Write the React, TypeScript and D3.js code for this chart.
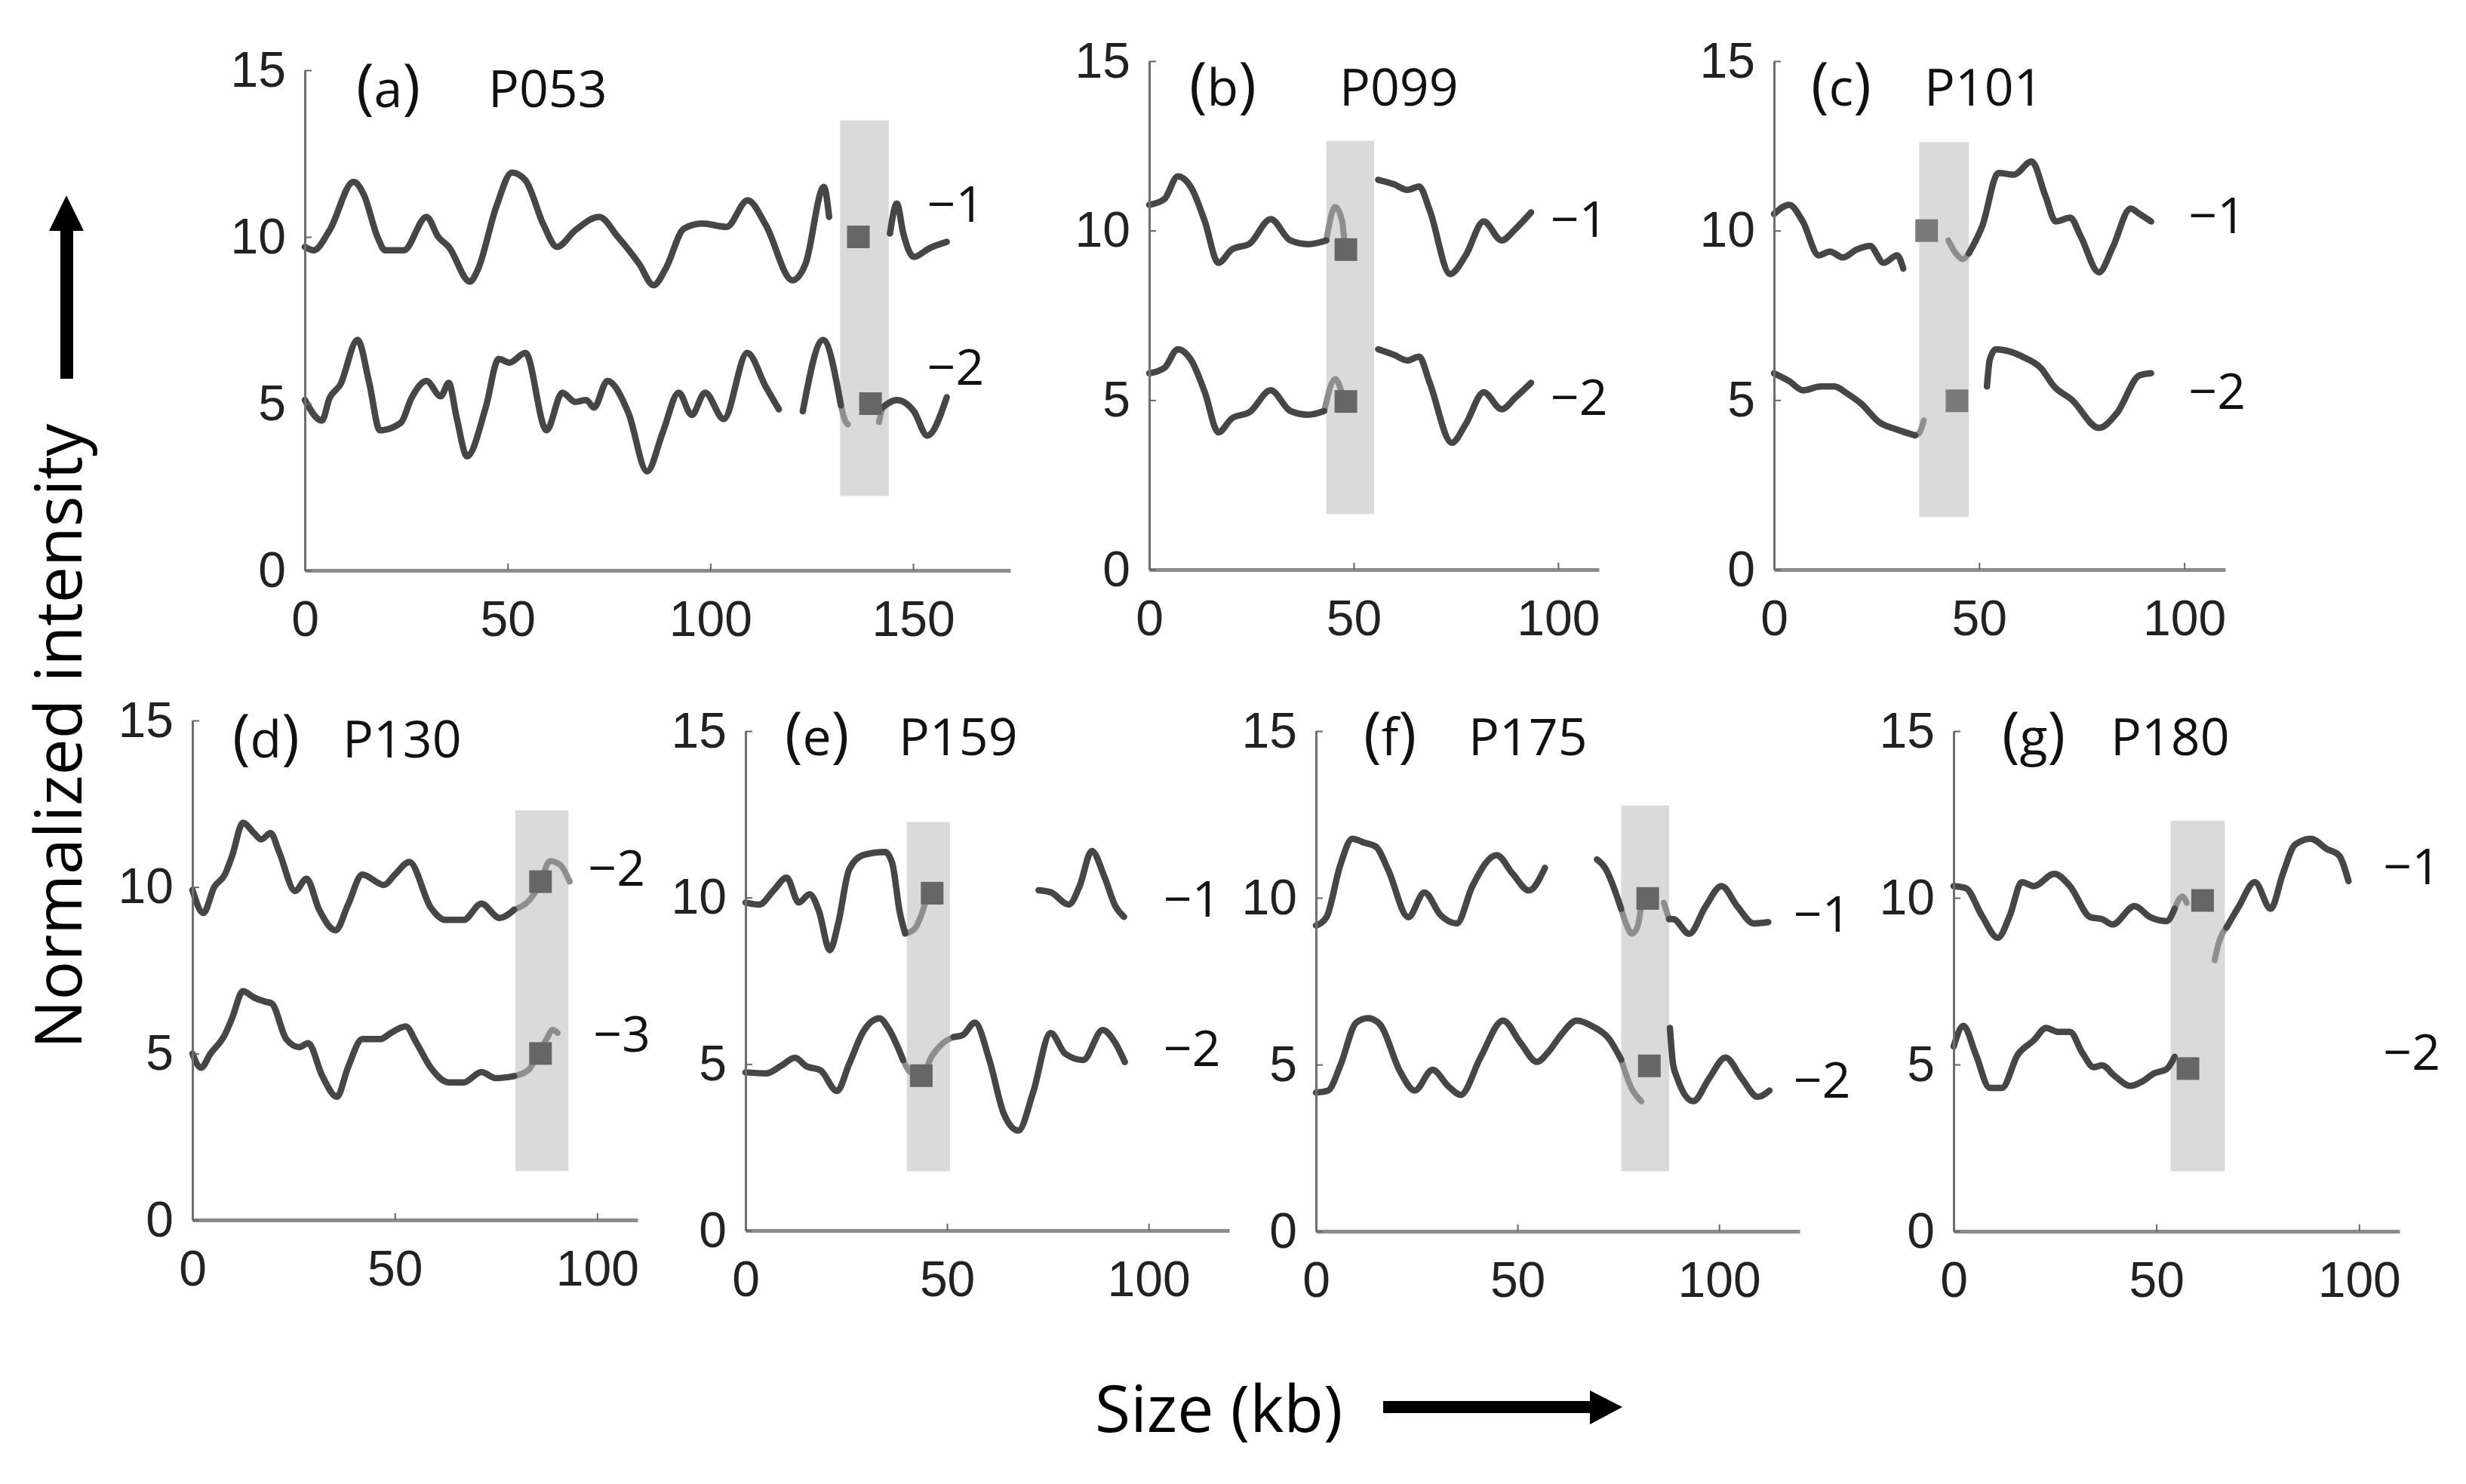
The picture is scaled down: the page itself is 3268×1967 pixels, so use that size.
import React, { useEffect, useRef } from 'react'
import * as d3 from 'd3'

type Pt = [number, number]

// ---- data: [size kb, normalized intensity] ----

// (a) P053
const p053_1_left: Pt[] = [[0, 9.7], [2.2, 9.6], [6.1, 10.2], [12, 11.65], [14.6, 11.25], [17.9, 10.0], [19.8, 9.6], [24.4, 9.6], [30, 10.6], [32.9, 10.0], [35.5, 9.7], [40.7, 8.66], [42.6, 9.0], [47.2, 10.9], [51.1, 11.93], [54.4, 11.7], [58.9, 10.35], [62.2, 9.7], [66.7, 10.2], [72.6, 10.6], [77.2, 10.0], [82.4, 9.2], [86, 8.55], [89, 9.05], [93.5, 10.25], [98, 10.4], [104, 10.3], [109.2, 11.1], [113.7, 10.35], [120.2, 8.7], [123.5, 9.2], [128, 11.5], [129.3, 10.6]]
const p053_1_right: Pt[] = [[144.3, 10.1], [146, 11.0], [147.6, 10.1], [150.2, 9.4], [154, 9.66], [158.3, 9.85]]
const p053_2_left: Pt[] = [[0, 5.11], [4.2, 4.49], [6.1, 5.17], [8.7, 5.56], [13, 6.91], [15.9, 5.61], [18.5, 4.2], [23.7, 4.43], [26.3, 5.17], [30, 5.68], [33.5, 5.22], [35.5, 5.62], [37.4, 4.6], [40, 3.42], [44.6, 4.88], [47.8, 6.34], [50.5, 6.23], [54.4, 6.52], [59.6, 4.2], [63.5, 5.33], [66.7, 5.05], [69.4, 5.11], [71.3, 4.88], [74.6, 5.68], [79.8, 4.72], [84.4, 2.97], [88.3, 4.15], [92.2, 5.33], [95.4, 4.66], [98.7, 5.33], [103.3, 4.54], [109.1, 6.52], [113.7, 5.5], [116.9, 4.83]]
const p053_2_mid: Pt[] = [[122.8, 4.77], [127.8, 6.91], [132.2, 4.95]]
const p053_2_dip: Pt[] = [[132.2, 4.95], [133.2, 4.5], [133.9, 4.38]]
const p053_2_tail: Pt[] = [[141.6, 4.45], [142.4, 4.88]]
const p053_2_right: Pt[] = [[142.4, 4.88], [146, 5.11], [150.2, 4.77], [153.5, 4.04], [158.3, 5.19]]

// (b) P099
const p099_1_left: Pt[] = [[0, 10.76], [3.7, 10.93], [7, 11.6], [10.3, 11.26], [13.6, 10.27], [16.9, 9.05], [20.2, 9.44], [24.6, 9.62], [29.7, 10.34], [34.5, 9.71], [38.9, 9.6], [43.3, 9.71]]
const p099_1_gap: Pt[] = [[43.3, 9.71], [45.5, 10.7], [47.2, 10.27], [47.7, 9.7]]
const p099_1_right: Pt[] = [[56, 11.5], [59.8, 11.37], [63.1, 11.2], [66, 11.3], [68.6, 10.6], [73.6, 8.72], [77.4, 9.27], [81.8, 10.27], [86.2, 9.71], [89.5, 10.04], [93.4, 10.54]]
const p099_2_left: Pt[] = [[0, 5.79], [3.7, 5.95], [7, 6.5], [10.3, 6.17], [13.6, 5.23], [16.9, 4.05], [20.2, 4.46], [24.6, 4.65], [29.7, 5.29], [34.5, 4.68], [38.9, 4.57], [42.8, 4.68]]
const p099_2_gap: Pt[] = [[42.8, 4.68], [45.5, 5.62], [47.2, 5.18]]
const p099_2_right: Pt[] = [[56, 6.5], [59.8, 6.34], [63.1, 6.17], [66, 6.28], [68.6, 5.51], [74, 3.74], [77.4, 4.29], [81.8, 5.23], [86.2, 4.73], [89.5, 5.07], [93.4, 5.51]]

// (c) P101
const p101_1_left: Pt[] = [[0, 10.49], [3.7, 10.76], [7, 10.27], [10.9, 9.27], [13.6, 9.38], [16.8, 9.21], [20.1, 9.44], [23.4, 9.55], [26.7, 9.05], [30, 9.27], [31.5, 8.88]]
const p101_1_gap: Pt[] = [[42.5, 9.71], [44.5, 9.3], [46, 9.16], [47.5, 9.33]]
const p101_1_right: Pt[] = [[47.5, 9.33], [50.8, 10.15], [54.7, 11.7], [58.4, 11.65], [62.8, 12.04], [66.1, 11.04], [68.7, 10.27], [72.2, 10.38], [74.8, 9.82], [79.2, 8.77], [82.5, 9.49], [86.9, 10.65], [89.1, 10.49], [91.9, 10.27]]
const p101_2_left: Pt[] = [[0, 5.79], [3.7, 5.56], [7, 5.29], [11.4, 5.4], [14.7, 5.4], [18, 5.18], [21.2, 4.9], [25.6, 4.35], [30, 4.13], [34.4, 3.96]]
const p101_2_gap: Pt[] = [[34.4, 3.96], [35.5, 4.05], [36.5, 4.4]]
const p101_2_right: Pt[] = [[51.9, 5.4], [52.6, 6.2], [54.1, 6.5], [57.3, 6.44], [60.6, 6.28], [65, 5.95], [68.3, 5.4], [72.6, 5.01], [79.2, 4.18], [83.6, 4.62], [89.1, 5.73], [91.9, 5.79]]

// (d) P130
const p130_2_left: Pt[] = [[0, 9.91], [2.7, 9.22], [5.4, 10.0], [8, 10.37], [9.8, 10.93], [12.5, 11.93], [15.2, 11.62], [17, 11.43], [19.3, 11.62], [21.4, 11.06], [25.4, 9.88], [28.2, 10.25], [31.3, 9.32], [35.4, 8.7], [38.4, 9.45], [42, 10.37], [47.3, 10.06], [50, 10.37], [53.6, 10.75], [58.9, 9.38], [62.5, 9.01], [67, 9.01], [71.4, 9.5], [75.9, 9.07], [79.5, 9.32]]
const p130_2_gap: Pt[] = [[79.5, 9.32], [83, 9.57], [85.5, 10.0], [88.4, 10.78], [91, 10.65], [93.2, 10.16]]
const p130_3_left: Pt[] = [[0, 5.0], [2.1, 4.57], [4.5, 5.0], [8, 5.56], [9.8, 6.06], [12.5, 6.87], [15.2, 6.68], [17.9, 6.56], [19.6, 6.5], [23.2, 5.43], [26.4, 5.19], [28.6, 5.31], [32.1, 4.32], [35.7, 3.7], [38.4, 4.57], [42, 5.43], [46.4, 5.43], [49.1, 5.62], [52.7, 5.81], [55.4, 5.31], [58.9, 4.57], [63.4, 4.13], [67, 4.13], [71.4, 4.44], [75, 4.26], [79.5, 4.32]]
const p130_3_gap: Pt[] = [[79.5, 4.32], [83, 4.5], [85.5, 5.0], [87.5, 5.43], [89, 5.71], [90.2, 5.62]]

// (e) P159
const p159_1_left: Pt[] = [[0, 9.85], [3.4, 9.79], [7, 10.22], [10.2, 10.6], [13.2, 9.85], [15.9, 10.1], [18.2, 9.6], [20.9, 8.42], [23, 9.23], [25.7, 10.84], [29.3, 11.28], [34.6, 11.37], [36.4, 11.03], [38.2, 9.6], [39.6, 8.92]]
const p159_1_gap: Pt[] = [[39.6, 8.92], [41.8, 9.04], [43.6, 9.47], [45, 10.0]]
const p159_1_right: Pt[] = [[72.7, 10.22], [75.7, 10.16], [80.2, 9.79], [82.9, 10.35], [85.9, 11.4], [89.1, 10.6], [91.8, 9.73], [93.9, 9.42]]
const p159_2_left: Pt[] = [[0, 4.75], [5.2, 4.72], [8.75, 4.94], [12.3, 5.19], [15, 4.94], [18.6, 4.81], [22.7, 4.19], [25.7, 5.0], [29.3, 5.99], [33.2, 6.37], [35.5, 6.06], [39.1, 5.12]]
const p159_2_gap: Pt[] = [[39.1, 5.12], [40.9, 4.75], [43.6, 4.65], [46.3, 5.25], [48.9, 5.62], [51.6, 5.81]]
const p159_2_right: Pt[] = [[51.6, 5.81], [53.9, 5.87], [56.9, 6.24], [60.5, 5.12], [64.1, 3.5], [67.7, 3.0], [71.3, 4.13], [75.7, 5.93], [79.3, 5.31], [83.75, 5.12], [88.6, 6.02], [91.8, 5.62], [94.1, 5.06]]

// (f) P175
const p175_1_left: Pt[] = [[0, 9.17], [2.6, 9.42], [6, 10.97], [9, 11.77], [12, 11.65], [14.9, 11.53], [17.9, 10.84], [22.9, 9.42], [26.9, 10.16], [30.9, 9.48], [34.9, 9.23], [38.8, 10.35], [44.8, 11.28], [48.8, 10.72], [52.8, 10.22], [56.8, 10.9]]
const p175_1_mid: Pt[] = [[69.7, 11.15], [71.7, 10.9], [75.7, 9.67]]
const p175_1_gap: Pt[] = [[75.7, 9.67], [77, 9.2], [78.3, 8.92], [79.7, 9.11], [80.5, 9.6]]
const p175_1_gap2: Pt[] = [[86.3, 9.85], [87.6, 9.36]]
const p175_1_right: Pt[] = [[87.6, 9.36], [88.6, 9.36], [92.6, 8.92], [96.6, 9.73], [100.6, 10.35], [104.6, 9.73], [108.6, 9.23], [112.2, 9.27]]
const p175_2_left: Pt[] = [[0, 4.16], [3, 4.22], [6, 4.96], [10, 6.26], [12.9, 6.39], [15.9, 6.2], [20.9, 4.78], [24.5, 4.22], [28.9, 4.84], [32.9, 4.34], [35.9, 4.09], [40.8, 5.21], [46.4, 6.32], [50.8, 5.64], [54.8, 5.08], [57.8, 5.4], [60.8, 5.89], [64.7, 6.32], [68.7, 6.14], [72.7, 5.77], [75.7, 5.15]]
const p175_2_gap: Pt[] = [[75.7, 5.15], [78.3, 4.28], [80.7, 3.9]]
const p175_2_right: Pt[] = [[87.8, 6.1], [88.6, 5.0], [89.6, 4.6], [93.6, 3.9], [97.6, 4.6], [101.6, 5.21], [105.6, 4.59], [109.6, 4.03], [112.5, 4.22]]

// (g) P180
const p180_1_left: Pt[] = [[0, 10.35], [3, 10.29], [6.9, 9.48], [10.9, 8.8], [13.9, 9.48], [16.8, 10.47], [19.8, 10.35], [24.8, 10.72], [28.7, 10.35], [33.7, 9.42], [36.6, 9.36], [39.2, 9.2], [44.6, 9.75], [48.5, 9.42], [52.5, 9.3], [54.5, 9.67]]
const p180_1_gap: Pt[] = [[54.5, 9.67], [56.4, 10.04], [57.5, 9.85]]
const p180_1_gap2: Pt[] = [[64.4, 8.13], [65.3, 8.6], [66.3, 8.93], [67.3, 9.11]]
const p180_1_right: Pt[] = [[67.3, 9.11], [70.3, 9.73], [74.3, 10.47], [78.2, 9.67], [81.2, 10.72], [84.2, 11.59], [88.1, 11.77], [92.1, 11.46], [95, 11.28], [97.4, 10.5]]
const p180_2_left: Pt[] = [[0, 5.54], [2.4, 6.16], [5.5, 5.29], [8.9, 4.3], [11.9, 4.3], [15.8, 5.29], [19.8, 5.73], [22.8, 6.1], [25.7, 5.98], [28.7, 5.98], [31.7, 5.36], [34.6, 4.92], [36.6, 4.98], [39.6, 4.67], [43.6, 4.36], [46.5, 4.49], [49.5, 4.74], [52.5, 4.86], [54.5, 5.23]]

// gap markers (square) per panel: [kb, intensity]
const markersA: Pt[] = [[136.5, 10.0], [139.5, 5.0]]
const markersB: Pt[] = [[48.1, 9.44], [48.1, 4.96]]
const markersC: Pt[] = [[37.2, 10.0], [44.6, 4.98]]
const markersD: Pt[] = [[86, 10.16], [86, 5.0]]
const markersE: Pt[] = [[46.3, 10.13], [43.6, 4.65]]
const markersF: Pt[] = [[82.3, 9.98], [82.7, 4.96]]
const markersG: Pt[] = [[61.4, 9.92], [57.8, 4.88]]

// shaded gap region [x0, x1, y0, y1]
const shadeA = [132, 144, 2.23, 13.49]
const shadeB = [43.3, 55, 1.64, 12.65]
const shadeC = [35.4, 47.5, 1.55, 12.61]
const shadeD = [79.8, 92.9, 1.47, 12.3]
const shadeE = [40, 50.7, 1.78, 12.27]
const shadeF = [75.7, 87.6, 1.8, 12.77]
const shadeG = [53.5, 66.9, 1.8, 12.31]

// copy-number labels: [text, kb, intensity]
const levelsA: [string, number, number][] = [['−1', 153.5, 10.45], ['−2', 153.5, 5.57]]
const levelsB: [string, number, number][] = [['−1', 98.2, 9.82], ['−2', 98.2, 4.56]]
const levelsC: [string, number, number][] = [['−1', 101.1, 9.93], ['−2', 101.1, 4.74]]
const levelsD: [string, number, number][] = [['−2', 97.8, 10.04], ['−3', 99.1, 5.05]]
const levelsE: [string, number, number][] = [['−1', 103.7, 9.43], ['−2', 103.7, 4.94]]
const levelsF: [string, number, number][] = [['−1', 118.5, 8.98], ['−2', 118.5, 4.0]]
const levelsG: [string, number, number][] = [['−1', 106, 10.41], ['−2', 106, 4.84]]

const yTicks = [0, 5, 10, 15]
const xTicksWide = [0, 50, 100, 150]
const xTicks = [0, 50, 100]

const DARK = '#464646'
const LIGHT = '#8e8e8e'

interface Panel {
  tag: string
  name: string
  xMax: number
  xTicks: number[]
  box: { left: number; right: number; top: number; bottom: number }
  tagX: number
  nameX: number
  labelY: number
  shade: number[]
  dark: Pt[][]
  light: Pt[][]
  markers: Pt[]
  markerFill: string
  levels: [string, number, number][]
}

const panels: Panel[] = [
  {
    tag: 'a', name: 'P053', xMax: 174, xTicks: xTicksWide,
    box: { left: 404, right: 1339, top: 93, bottom: 756 }, tagX: 472, nameX: 647, labelY: 142,
    shade: shadeA, dark: [p053_1_left, p053_1_right, p053_2_left, p053_2_mid, p053_2_right],
    light: [p053_2_dip, p053_2_tail], markers: markersA, markerFill: '#666666', levels: levelsA,
  },
  {
    tag: 'b', name: 'P099', xMax: 110, xTicks,
    box: { left: 1523, right: 2119, top: 81, bottom: 755 }, tagX: 1576, nameX: 1775, labelY: 140,
    shade: shadeB, dark: [p099_1_left, p099_1_right, p099_2_left, p099_2_right],
    light: [p099_1_gap, p099_2_gap], markers: markersB, markerFill: '#666666', levels: levelsB,
  },
  {
    tag: 'c', name: 'P101', xMax: 110, xTicks,
    box: { left: 2351, right: 2949, top: 81, bottom: 755 }, tagX: 2400, nameX: 2550, labelY: 140,
    shade: shadeC, dark: [p101_1_left, p101_1_right, p101_2_left, p101_2_right],
    light: [p101_1_gap, p101_2_gap], markers: markersC, markerFill: '#7a7a7a', levels: levelsC,
  },
  {
    tag: 'd', name: 'P130', xMax: 110, xTicks,
    box: { left: 255, right: 845, top: 955, bottom: 1617 }, tagX: 308, nameX: 454, labelY: 1004,
    shade: shadeD, dark: [p130_2_left, p130_3_left],
    light: [p130_2_gap, p130_3_gap], markers: markersD, markerFill: '#666666', levels: levelsD,
  },
  {
    tag: 'e', name: 'P159', xMax: 120, xTicks,
    box: { left: 988, right: 1629, top: 969, bottom: 1631 }, tagX: 1040, nameX: 1191, labelY: 1001,
    shade: shadeE, dark: [p159_1_left, p159_1_right, p159_2_left, p159_2_right],
    light: [p159_1_gap, p159_2_gap], markers: markersE, markerFill: '#666666', levels: levelsE,
  },
  {
    tag: 'f', name: 'P175', xMax: 120, xTicks,
    box: { left: 1744, right: 2385, top: 969, bottom: 1632 }, tagX: 1807, nameX: 1946, labelY: 1001,
    shade: shadeF, dark: [p175_1_left, p175_1_mid, p175_1_right, p175_2_left, p175_2_right],
    light: [p175_1_gap, p175_1_gap2, p175_2_gap], markers: markersF, markerFill: '#666666', levels: levelsF,
  },
  {
    tag: 'g', name: 'P180', xMax: 110, xTicks,
    box: { left: 2589, right: 3180, top: 969, bottom: 1632 }, tagX: 2653, nameX: 2797, labelY: 1001,
    shade: shadeG, dark: [p180_1_left, p180_1_right, p180_2_left],
    light: [p180_1_gap, p180_1_gap2], markers: markersG, markerFill: '#666666', levels: levelsG,
  },
]

const W = 3268
const H = 1967
const TEXT_FONT = "'Open Sans', 'Noto Sans', sans-serif"
const TICK_FONT = "'Liberation Sans Narrow', 'Liberation Sans', Arial, sans-serif"

const App: React.FC = () => {
  const svgRef = useRef<SVGSVGElement>(null)

  useEffect(() => {
    const svg = d3.select(svgRef.current)
    svg.selectAll('*').remove()

    svg.append('rect').attr('width', W).attr('height', H).attr('fill', '#ffffff')

    panels.forEach(p => {
      const x = d3.scaleLinear().domain([0, p.xMax]).range([p.box.left, p.box.right])
      const y = d3.scaleLinear().domain([0, 15]).range([p.box.bottom, p.box.top])
      const g = svg.append('g')

      // shaded gap
      const [sx0, sx1, sy0, sy1] = p.shade
      g.append('rect')
        .attr('x', x(sx0))
        .attr('y', y(sy1))
        .attr('width', x(sx1) - x(sx0))
        .attr('height', y(sy0) - y(sy1))
        .attr('fill', '#dadada')

      const line = d3.line<Pt>()
        .x(d => x(d[0]))
        .y(d => y(d[1]))
        .curve(d3.curveMonotoneX)

      p.light.forEach(seg => {
        g.append('path')
          .attr('d', line(seg))
          .attr('fill', 'none')
          .attr('stroke', LIGHT)
          .attr('stroke-width', 8)
          .attr('stroke-linecap', 'round')
          .attr('stroke-linejoin', 'round')
      })

      p.dark.forEach(seg => {
        g.append('path')
          .attr('d', line(seg))
          .attr('fill', 'none')
          .attr('stroke', DARK)
          .attr('stroke-width', 8.5)
          .attr('stroke-linecap', 'round')
          .attr('stroke-linejoin', 'round')
      })

      const ms = 30
      g.selectAll('.marker')
        .data(p.markers)
        .enter()
        .append('rect')
        .attr('x', d => x(d[0]) - ms / 2)
        .attr('y', d => y(d[1]) - ms / 2)
        .attr('width', ms)
        .attr('height', ms)
        .attr('fill', p.markerFill)

      // axes
      const xAxis = g.append('g')
        .attr('transform', `translate(0,${p.box.bottom})`)
        .call(d3.axisBottom(x).tickValues(p.xTicks).tickSizeInner(-9).tickSizeOuter(0).tickPadding(40))
      xAxis.select('.domain').attr('stroke', '#8c8c8c').attr('stroke-width', 5)

      const yAxis = g.append('g')
        .attr('transform', `translate(${p.box.left},0)`)
        .call(d3.axisLeft(y).tickValues(yTicks).tickSizeInner(-9).tickSizeOuter(0).tickPadding(25))
      yAxis.select('.domain').attr('stroke', '#6e6e6e').attr('stroke-width', 3)

      ;[xAxis, yAxis].forEach(ax => {
        ax.attr('font-family', TICK_FONT).attr('font-size', 66)
        ax.selectAll('.tick line').attr('stroke', '#666').attr('stroke-width', 2)
        ax.selectAll('.tick text').attr('fill', '#222')
      })

      // panel tag (taller brackets) and name
      const tag = g.append('text')
        .attr('x', p.tagX)
        .attr('y', p.labelY)
        .attr('font-family', TEXT_FONT)
        .attr('font-size', 68)
        .attr('fill', '#111')
      tag.append('tspan').attr('font-size', 80).text('(')
      tag.append('tspan').text(p.tag)
      tag.append('tspan').attr('font-size', 80).text(')')

      g.append('text')
        .attr('x', p.nameX)
        .attr('y', p.labelY)
        .attr('font-family', TEXT_FONT)
        .attr('font-size', 68)
        .attr('fill', '#111')
        .text(p.name)

      // copy number labels
      g.selectAll('.level')
        .data(p.levels)
        .enter()
        .append('text')
        .attr('x', d => x(d[1]))
        .attr('y', d => y(d[2]))
        .attr('font-family', TEXT_FONT)
        .attr('font-size', 66)
        .attr('fill', '#111')
        .text(d => d[0])
    })

    // global axis titles with arrows
    svg.append('text')
      .attr('transform', 'translate(108,976) rotate(-90)')
      .attr('text-anchor', 'middle')
      .attr('font-family', TEXT_FONT)
      .attr('font-size', 86)
      .attr('fill', '#000')
      .text('Normalized intensity')

    svg.append('path')
      .attr('d', 'M80,502 L97,502 L97,306 L111,306 L88,259 L65,306 L80,306 Z')
      .attr('fill', '#000')

    svg.append('text')
      .attr('x', 1451)
      .attr('y', 1898)
      .attr('font-family', TEXT_FONT)
      .attr('font-size', 86)
      .attr('fill', '#000')
      .text('Size (kb)')

    svg.append('path')
      .attr('d', 'M1833,1857 L2107,1857 L2107,1843 L2150,1865 L2107,1888 L2107,1873 L1833,1873 Z')
      .attr('fill', '#000')
  }, [])

  return (
    <svg
      ref={svgRef}
      width={W}
      height={H}
      style={{ position: 'absolute', left: 0, top: 0, display: 'block' }}
    />
  )
}

export default App
